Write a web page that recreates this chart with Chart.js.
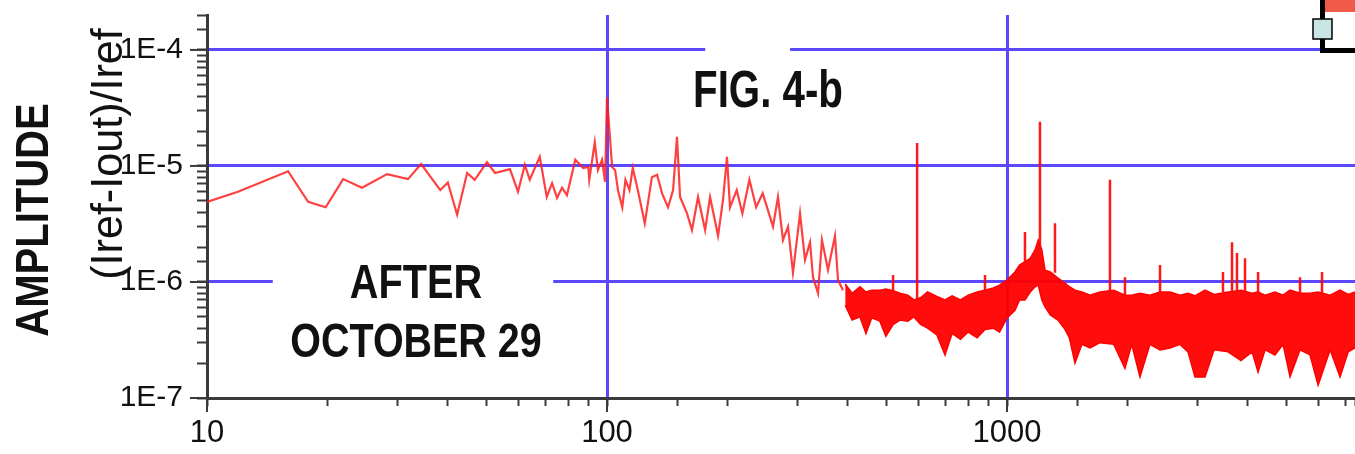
<!DOCTYPE html>
<html>
<head>
<meta charset="utf-8">
<script src="https://cdn.jsdelivr.net/npm/chart.js@4.4.1/dist/chart.umd.min.js"></script>
<style>
  html, body { margin: 0; padding: 0; background: #fff; }
</style>
</head>
<body>
<canvas id="chart" width="1355" height="454"></canvas>
<script>
// low frequency trace (Hz, amplitude)
const traceFreq = [10, 11.95, 15.95, 17.9, 19.8, 21.9, 24.4, 28.2, 31.8, 34.3, 38.3, 40, 42.2, 44.7, 46.7,
  50.1, 52.5, 57.2, 59.9, 62.3, 64.1, 67.9, 70.7, 72.9, 75, 77.2, 79.4, 83.3, 87.2, 89.8, 90.3, 93.2,
  94.9, 97.2, 98.9, 100, 103, 104.8, 106.5, 109.2, 111.2, 113.8, 116, 119.4, 124.3, 129.5, 133.4,
  137.3, 142.1, 146.3, 149.6, 152.3, 158.5, 163.1, 168.9, 175.9, 181, 189.5, 195, 199.5, 203, 211,
  218, 227, 236, 245, 254, 260, 267.6, 275.4, 283.5, 291.7, 303.8, 312.6, 321.8, 327.3, 337, 344.7,
  356.9, 371.5, 378, 389];
const traceAmp = [4.9e-6, 6.0e-6, 9.0e-6, 4.9e-6, 4.4e-6, 7.7e-6, 6.5e-6, 8.5e-6, 7.7e-6, 1.04e-5, 6.2e-6,
  7.2e-6, 3.8e-6, 8.7e-6, 7.6e-6, 1.08e-5, 8.7e-6, 9.4e-6, 6.0e-6, 1.02e-5, 7.6e-6, 1.2e-5, 5.4e-6,
  7.1e-6, 5.3e-6, 6.5e-6, 5.6e-6, 1.13e-5, 9.6e-6, 9.8e-6, 7.6e-6, 1.6e-5, 9.2e-6, 1.13e-5, 7.3e-6,
  3.9e-5, 9.8e-6, 9.2e-6, 6.2e-6, 4.4e-6, 7.6e-6, 6.2e-6, 9.6e-6, 6.2e-6, 3.2e-6, 8.0e-6, 8.4e-6,
  5.8e-6, 4.4e-6, 6.2e-6, 1.78e-5, 5.4e-6, 3.9e-6, 2.8e-6, 5.4e-6, 2.8e-6, 5.4e-6, 2.5e-6, 5.1e-6,
  1.2e-5, 4.4e-6, 6.2e-6, 3.9e-6, 7.6e-6, 4.4e-6, 5.8e-6, 3.9e-6, 3.0e-6, 5.4e-6, 2.3e-6, 3.0e-6,
  1.2e-6, 3.9e-6, 1.55e-6, 2.2e-6, 1.1e-6, 8.0e-7, 2.3e-6, 1.27e-6, 2.5e-6, 1.04e-6, 8.5e-7];

// dense noise band above ~400 Hz: upper and lower edge
const bandFreq = [394, 410, 429, 444, 459, 481, 498, 519, 540, 565, 585, 608, 633, 668, 700, 729, 765,
  800, 842, 881, 924, 958, 1000, 1047, 1075, 1109, 1143, 1175, 1197, 1222, 1245, 1283, 1341, 1396,
  1432, 1479, 1539, 1613, 1708, 1849, 1972, 2050, 2150, 2277, 2413, 2557, 2707, 2835, 2951, 3126,
  3293, 3569, 3846, 4100, 4243, 4418, 4677, 4900, 5100, 5402, 5722, 5995, 6425, 6801, 7129, 7413];
const bandUpper = [9.6e-7, 8.0e-7, 9.1e-7, 8.2e-7, 8.5e-7, 8.5e-7, 8.7e-7, 8.4e-7, 8.0e-7, 7.7e-7,
  7.0e-7, 7.3e-7, 8.2e-7, 7.5e-7, 7.0e-7, 7.6e-7, 7.0e-7, 7.7e-7, 8.2e-7, 8.5e-7, 8.9e-7, 9.4e-7,
  1.04e-6, 1.22e-6, 1.4e-6, 1.5e-6, 1.6e-6, 1.89e-6, 2.3e-6, 1.89e-6, 1.26e-6, 1.22e-6, 1.08e-6,
  9.8e-7, 9.1e-7, 8.5e-7, 8.2e-7, 7.7e-7, 8.2e-7, 8.5e-7, 7.7e-7, 7.7e-7, 8.0e-7, 7.7e-7, 8.2e-7,
  8.2e-7, 7.7e-7, 8.0e-7, 7.6e-7, 8.5e-7, 7.8e-7, 8.2e-7, 8.5e-7, 8.0e-7, 8.2e-7, 7.7e-7, 8.2e-7,
  7.7e-7, 8.5e-7, 8.0e-7, 8.0e-7, 8.2e-7, 7.7e-7, 8.5e-7, 7.8e-7, 8.2e-7];
const bandLower = [6.3e-7, 4.7e-7, 5.0e-7, 3.6e-7, 4.9e-7, 4.6e-7, 3.4e-7, 4.3e-7, 4.7e-7, 4.6e-7,
  5.0e-7, 4.3e-7, 4.0e-7, 3.5e-7, 2.35e-7, 3.6e-7, 3.2e-7, 3.7e-7, 3.3e-7, 3.9e-7, 4.0e-7, 3.7e-7,
  4.9e-7, 5.7e-7, 7.0e-7, 7.0e-7, 8.2e-7, 9.1e-7, 9.4e-7, 7.0e-7, 6.1e-7, 5.2e-7, 4.7e-7, 3.9e-7,
  3.3e-7, 2.0e-7, 2.9e-7, 2.7e-7, 3.0e-7, 2.9e-7, 1.8e-7, 2.9e-7, 1.52e-7, 2.9e-7, 2.6e-7, 2.7e-7,
  2.9e-7, 2.5e-7, 1.52e-7, 1.52e-7, 2.6e-7, 2.5e-7, 2.1e-7, 2.5e-7, 1.67e-7, 2.6e-7, 2.35e-7,
  2.9e-7, 1.52e-7, 2.6e-7, 2.35e-7, 1.29e-7, 2.6e-7, 1.52e-7, 2.5e-7, 2.7e-7];

// narrow lines sticking out of the band
const spikeFreq = [519, 596, 881, 1109, 1209, 1318, 1809, 1972, 2413, 3467, 3652, 3758, 3936, 4243, 5402, 6131];
const spikeBase = [8.4e-7, 7.0e-7, 8.5e-7, 1.5e-6, 2.0e-6, 1.2e-6, 8.2e-7, 7.7e-7, 8.2e-7, 8.2e-7, 8.2e-7,
  8.2e-7, 8.2e-7, 8.2e-7, 8.0e-7, 8.0e-7];
const spikeTop = [1.15e-6, 1.58e-5, 1.15e-6, 2.7e-6, 2.4e-5, 3.2e-6, 7.6e-6, 1.1e-6, 1.4e-6, 1.22e-6, 2.2e-6,
  1.78e-6, 1.6e-6, 1.22e-6, 1.1e-6, 1.22e-6];

const xTickValues = [10, 100, 1000];
const xTickLabels = ["10", "100", "1000"];
const yTickValues = [1e-7, 1e-6, 1e-5, 1e-4];
const yTickLabels = ["1E-7", "1E-6", "1E-5", "1E-4"];

// white breaks in the grid lines behind the notes
const gridBreaks = [
  { y: 1e-4, from: 176, to: 287 },
  { y: 1e-6, from: 14.6, to: 73.4 },
];

const FONT = "'Liberation Sans', Arial, sans-serif";
const GRID_BLUE = "#5a48ff";
const AXIS = "#3a3a3a";
const RED = "#ff0000";

const findIdx = (list, v) => list.findIndex((t) => Math.abs(t - v) / t < 1e-6);

const toPoints = (xs, ys) => xs.map((x, i) => ({ x: x, y: ys[i] }));

const spikePoints = [];
spikeFreq.forEach((f, i) => {
  spikePoints.push({ x: f, y: spikeBase[i] }, { x: f, y: spikeTop[i] }, { x: f, y: null });
});

const gridBreakPlugin = {
  id: "gridBreaks",
  beforeDatasetsDraw(chart) {
    const { ctx, scales } = chart;
    ctx.save();
    ctx.fillStyle = "#fff";
    gridBreaks.forEach((b) => {
      const x1 = scales.x.getPixelForValue(b.from);
      const x2 = scales.x.getPixelForValue(b.to);
      const py = scales.y.getPixelForValue(b.y);
      ctx.fillRect(x1, py - 5, x2 - x1, 10);
    });
    ctx.restore();
  },
};

const notesPlugin = {
  id: "notes",
  afterDraw(chart) {
    const { ctx, scales } = chart;
    const x = scales.x;
    const y = scales.y;

    // longer marks at the decades
    ctx.save();
    ctx.strokeStyle = AXIS;
    ctx.lineWidth = 2;
    yTickValues.forEach((v) => {
      const py = y.getPixelForValue(v);
      ctx.beginPath();
      ctx.moveTo(y.right - 17, py);
      ctx.lineTo(y.right, py);
      ctx.stroke();
    });
    xTickValues.forEach((v) => {
      const px = x.getPixelForValue(v);
      ctx.beginPath();
      ctx.moveTo(px, x.top);
      ctx.lineTo(px, x.top + 14);
      ctx.stroke();
    });
    ctx.restore();

    const text = (str, px, py, font, sx, rot) => {
      ctx.save();
      ctx.translate(px, py);
      if (rot) ctx.rotate(rot);
      ctx.scale(sx, 1);
      ctx.font = font;
      ctx.fillStyle = "#111";
      ctx.textAlign = "center";
      ctx.textBaseline = "alphabetic";
      ctx.fillText(str, 0, 0);
      ctx.restore();
    };
    text("FIG. 4-b", 768, 107, "bold 51px " + FONT, 0.79);
    text("AFTER", 416, 298, "bold 49px " + FONT, 0.81);
    text("OCTOBER 29", 416, 357, "bold 49px " + FONT, 0.805);
    text("AMPLITUDE", 48, 220, "bold 46px " + FONT, 0.87, -Math.PI / 2);
    text("(Iref-Iout)/Iref", 122, 154, "44px " + FONT, 0.98, -Math.PI / 2);

    // clipped piece of a neighbouring figure in the corner
    ctx.save();
    ctx.fillStyle = "#f05a48";
    ctx.fillRect(1322, 0, 33, 12);
    ctx.fillStyle = "#000";
    ctx.fillRect(1320, 0, 5, 53);
    ctx.fillRect(1320, 48, 35, 5);
    ctx.fillStyle = "#c8e4e4";
    ctx.fillRect(1313, 19, 19, 20);
    ctx.strokeStyle = "#000";
    ctx.lineWidth = 1.5;
    ctx.strokeRect(1313, 19, 19, 20);
    ctx.restore();
  },
};

const gridColor = (values, skip) => (context) => {
  const v = context.tick && context.tick.value;
  const i = findIdx(values, v);
  return i >= 0 && values[i] !== skip ? GRID_BLUE : "rgba(0,0,0,0)";
};

new Chart(document.getElementById("chart").getContext("2d"), {
  type: "line",
  data: {
    datasets: [
      {
        data: toPoints(bandFreq, bandUpper),
        borderColor: RED,
        borderWidth: 1.5,
        pointRadius: 0,
        fill: false,
      },
      {
        data: toPoints(bandFreq, bandLower),
        borderColor: RED,
        borderWidth: 1.5,
        pointRadius: 0,
        backgroundColor: "rgba(255,0,0,0.95)",
        fill: "-1",
      },
      {
        data: toPoints(traceFreq, traceAmp),
        borderColor: "rgba(255,30,30,0.85)",
        borderWidth: 2.2,
        pointRadius: 0,
        fill: false,
      },
      {
        data: spikePoints,
        borderColor: "rgba(255,0,0,0.9)",
        borderWidth: 2.5,
        pointRadius: 0,
        spanGaps: false,
        fill: false,
      },
    ],
  },
  options: {
    responsive: false,
    animation: false,
    layout: { padding: { top: 15, left: 0, right: 0, bottom: 0 } },
    plugins: {
      legend: { display: false },
      tooltip: { enabled: false },
    },
    elements: { line: { tension: 0 } },
    scales: {
      x: {
        type: "logarithmic",
        min: 10,
        max: 7413,
        border: { color: AXIS, width: 3 },
        grid: {
          color: gridColor(xTickValues, 10),
          lineWidth: 3,
          tickColor: AXIS,
          tickLength: 8,
          tickWidth: 2,
        },
        ticks: {
          autoSkip: false,
          maxRotation: 0,
          minRotation: 0,
          padding: 9,
          color: "#111",
          font: { family: FONT, size: 31 },
          callback: (value) => {
            const i = findIdx(xTickValues, value);
            return i >= 0 ? xTickLabels[i] : "";
          },
        },
        afterFit: (scale) => {
          scale.height = 56;
          scale.paddingLeft = 0;
          scale.paddingRight = 0;
        },
      },
      y: {
        type: "logarithmic",
        min: 1e-7,
        max: 2e-4,
        border: { color: AXIS, width: 3 },
        grid: {
          color: gridColor(yTickValues, 1e-7),
          lineWidth: 3,
          tickColor: AXIS,
          tickLength: 10,
          tickWidth: 2,
        },
        ticks: {
          autoSkip: false,
          padding: 14,
          color: "#111",
          font: { family: FONT, size: 30 },
          callback: (value) => {
            const i = findIdx(yTickValues, value);
            return i >= 0 ? yTickLabels[i] : "";
          },
        },
        afterFit: (scale) => {
          scale.width = 207;
          scale.paddingTop = 0;
          scale.paddingBottom = 0;
        },
      },
    },
  },
  plugins: [gridBreakPlugin, notesPlugin],
});
</script>
</body>
</html>
